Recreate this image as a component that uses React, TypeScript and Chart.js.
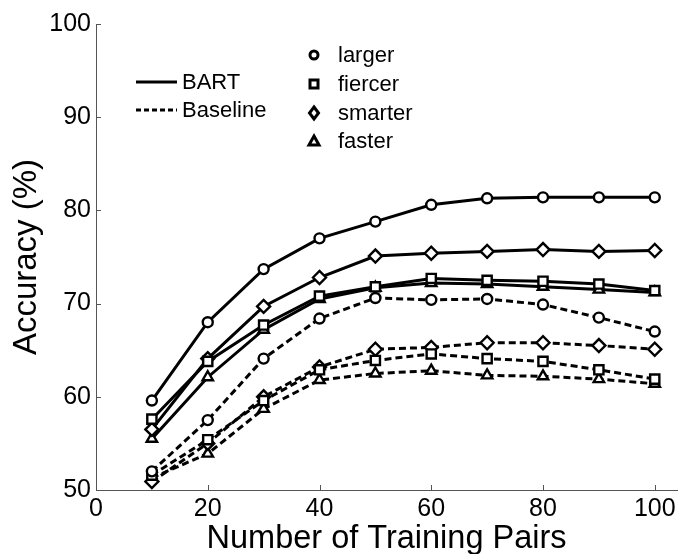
import React, { useEffect, useRef } from "react";
import { Chart, registerables } from "chart.js";

Chart.register(...registerables);

const trainingPairs = [10, 20, 30, 40, 50, 60, 70, 80, 90, 100];

const bartLarger = [59.6, 68.0, 73.7, 77.0, 78.8, 80.6, 81.3, 81.4, 81.4, 81.4];
const bartFiercer = [57.6, 63.8, 67.7, 70.8, 71.8, 72.7, 72.5, 72.4, 72.1, 71.4];
const bartSmarter = [56.5, 64.1, 69.7, 72.8, 75.1, 75.4, 75.6, 75.8, 75.6, 75.7];
const bartFaster = [55.5, 62.1, 67.2, 70.5, 71.7, 72.2, 72.1, 71.8, 71.5, 71.2];

const baseLarger = [52.0, 57.5, 64.1, 68.4, 70.6, 70.4, 70.5, 69.9, 68.5, 67.0];
const baseFiercer = [51.6, 55.4, 59.6, 62.9, 63.9, 64.6, 64.1, 63.8, 62.9, 61.9];
const baseSmarter = [50.9, 55.0, 60.0, 63.2, 65.1, 65.3, 65.8, 65.8, 65.5, 65.1];
const baseFaster = [51.3, 53.9, 58.7, 61.8, 62.5, 62.8, 62.3, 62.2, 61.9, 61.4];

const methodLabels = ["BART", "Baseline"];
const comparativeLabels = ["larger", "fiercer", "smarter", "faster"];
const markerStyles = ["circle", "rect", "rectRot", "triangle"];
const markerRadii = [5, 6.5, 6.5, 6];

const xTickValues = [0, 20, 40, 60, 80, 100];
const yTickValues = [50, 60, 70, 80, 90, 100];

const FONT = "'Liberation Sans', Arial, Helvetica, sans-serif";
const AXIS_COLOR = "#555";

function toPoints(values: number[]) {
  return values.map((v, i) => ({ x: trainingPairs[i], y: v }));
}

function makeDataset(label: string, values: number[], idx: number, dashed: boolean) {
  return {
    label,
    data: toPoints(values),
    borderColor: "#000",
    backgroundColor: "#fff",
    borderWidth: 3,
    borderDash: dashed ? [7, 4] : [],
    pointStyle: markerStyles[idx],
    pointRadius: markerRadii[idx],
    pointBorderWidth: 2.4,
    pointBorderColor: "#000",
    pointBackgroundColor: "#fff",
    tension: 0,
    fill: false,
  };
}

const decorPlugin = {
  id: "decor",
  afterDraw(chart: any) {
    const ctx = chart.ctx;
    const xs = chart.scales.x;
    const ys = chart.scales.y;
    ctx.save();
    // inward ticks
    ctx.strokeStyle = AXIS_COLOR;
    ctx.lineWidth = 1;
    ctx.beginPath();
    xTickValues.forEach((v) => {
      const px = Math.round(xs.getPixelForValue(v)) + 0.5;
      ctx.moveTo(px, ys.bottom);
      ctx.lineTo(px, ys.bottom - 5);
    });
    yTickValues.forEach((v) => {
      const py = Math.round(ys.getPixelForValue(v)) + 0.5;
      ctx.moveTo(xs.left, py);
      ctx.lineTo(xs.left + 5, py);
    });
    ctx.stroke();

    // line-style legend
    ctx.strokeStyle = "#000";
    ctx.lineWidth = 3;
    ctx.setLineDash([]);
    ctx.beginPath();
    ctx.moveTo(136, 82);
    ctx.lineTo(177, 82);
    ctx.stroke();
    ctx.setLineDash([5, 3]);
    ctx.beginPath();
    ctx.moveTo(136, 110);
    ctx.lineTo(177, 110);
    ctx.stroke();
    ctx.setLineDash([]);

    ctx.fillStyle = "#000";
    ctx.font = `22px ${FONT}`;
    ctx.textBaseline = "middle";
    ctx.textAlign = "left";
    ctx.fillText(methodLabels[0], 182, 83);
    ctx.fillText(methodLabels[1], 182, 111);

    // marker legend
    const rows = [55, 84, 113, 141];
    const mx = 314;
    ctx.lineWidth = 3;
    ctx.strokeStyle = "#000";
    ctx.fillStyle = "#fff";
    rows.forEach((ry, i) => {
      ctx.beginPath();
      const s = markerStyles[i];
      if (s === "circle") {
        ctx.arc(mx, ry, 4, 0, Math.PI * 2);
      } else if (s === "rect") {
        ctx.rect(mx - 4, ry - 4, 8, 8);
      } else if (s === "rectRot") {
        ctx.moveTo(mx, ry - 6);
        ctx.lineTo(mx + 4.5, ry);
        ctx.lineTo(mx, ry + 6);
        ctx.lineTo(mx - 4.5, ry);
        ctx.closePath();
      } else {
        ctx.moveTo(mx, ry - 5);
        ctx.lineTo(mx + 5, ry + 4);
        ctx.lineTo(mx - 5, ry + 4);
        ctx.closePath();
      }
      ctx.fill();
      ctx.stroke();
    });
    ctx.fillStyle = "#000";
    rows.forEach((ry, i) => {
      ctx.fillText(comparativeLabels[i], 338, ry + 1);
    });
    ctx.restore();
  },
};

export default function App() {
  const ref = useRef<HTMLCanvasElement | null>(null);

  useEffect(() => {
    if (!ref.current) return;
    const datasets = [
      makeDataset("BART larger", bartLarger, 0, false),
      makeDataset("BART fiercer", bartFiercer, 1, false),
      makeDataset("BART smarter", bartSmarter, 2, false),
      makeDataset("BART faster", bartFaster, 3, false),
      makeDataset("Baseline larger", baseLarger, 0, true),
      makeDataset("Baseline fiercer", baseFiercer, 1, true),
      makeDataset("Baseline smarter", baseSmarter, 2, true),
      makeDataset("Baseline faster", baseFaster, 3, true),
    ];
    const chart = new Chart(ref.current, {
      type: "line",
      data: { datasets },
      plugins: [decorPlugin],
      options: {
        animation: false,
        responsive: false,
        maintainAspectRatio: false,
        layout: { padding: { top: 24, right: 0, left: 0, bottom: 0 } },
        plugins: {
          legend: { display: false },
          tooltip: { enabled: false },
        },
        scales: {
          x: {
            type: "linear",
            min: 0,
            max: 104,
            grid: { display: false, drawTicks: false },
            border: { display: true, color: AXIS_COLOR, width: 1 },
            afterBuildTicks: (scale: any) => {
              scale.ticks = xTickValues.map((v) => ({ value: v }));
            },
            afterFit: (scale: any) => {
              scale.height = 64;
              scale.paddingLeft = 0;
              scale.paddingRight = 0;
            },
            ticks: {
              color: "#000",
              font: { size: 25, family: FONT },
              padding: 4,
              maxRotation: 0,
              autoSkip: false,
            },
            title: {
              display: true,
              text: "Number of Training Pairs",
              color: "#000",
              font: { size: 32.5, family: FONT },
              padding: { top: 0, bottom: -5 },
            },
          },
          y: {
            type: "linear",
            min: 50,
            max: 100,
            grid: { display: false, drawTicks: false },
            border: { display: true, color: AXIS_COLOR, width: 1 },
            afterBuildTicks: (scale: any) => {
              scale.ticks = yTickValues.map((v) => ({ value: v }));
            },
            afterFit: (scale: any) => {
              scale.width = 96;
              scale.paddingTop = 0;
              scale.paddingBottom = 0;
            },
            ticks: {
              color: "#000",
              font: { size: 25, family: FONT },
              padding: 5,
            },
            title: {
              display: true,
              text: "Accuracy (%)",
              color: "#000",
              font: { size: 33, family: FONT },
              padding: { top: 7, bottom: 0 },
            },
          },
        },
      },
    } as any);
    return () => chart.destroy();
  }, []);

  return (
    <div style={{ position: "absolute", left: 0, top: 0, width: 686, height: 554, background: "#fff" }}>
      <canvas ref={ref} width={686} height={554} style={{ width: 686, height: 554, display: "block" }} />
    </div>
  );
}
